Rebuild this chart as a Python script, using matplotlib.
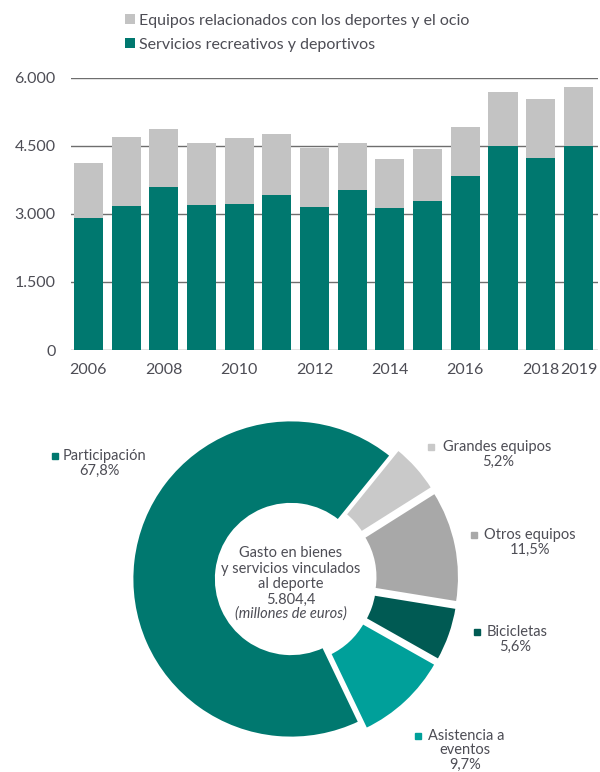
import numpy as np
import matplotlib.pyplot as plt
from matplotlib.ticker import FuncFormatter

plt.rcParams['font.family'] = ['Lato', 'DejaVu Sans']

# gasto anual (millones de euros)
years = list(range(2006, 2020))
servicios = [2900, 3180, 3590, 3195, 3215, 3420, 3150, 3530, 3135, 3290, 3830, 4500, 4230, 4500]
equipos = [1215, 1520, 1270, 1360, 1465, 1345, 1305, 1040, 1075, 1140, 1090, 1185, 1290, 1304]
tick_years = [2006, 2008, 2010, 2012, 2014, 2016, 2018, 2019]

# reparto 2019
cats = ['Grandes equipos', 'Otros equipos', 'Bicicletas', 'Asistencia a\neventos', 'Participación']
shares = [5.2, 11.5, 5.6, 9.7, 67.8]
total = 5804.4

TEAL = '#00786f'
GREY = '#c3c3c3'
TXT = '#4d4d55'
donut_cols = ['#c9c9c9', '#a8a8a8', '#005a53', '#00a09a', TEAL]

W, H = 600, 772
fig = plt.figure(figsize=(W / 100, H / 100), dpi=100)

# --- barras apiladas ---
ax = fig.add_axes([71 / W, 1 - 350 / H, (598 - 71) / W, (350 - 77.7) / H])
x = np.arange(len(years))
b1 = ax.bar(x, servicios, width=0.77, color=TEAL, zorder=3)
b2 = ax.bar(x, equipos, bottom=servicios, width=0.77, color=GREY, zorder=3)
ax.set_ylim(0, 6000)
ax.set_xlim(-0.46, 13.52)
ax.set_yticks([0, 1500, 3000, 4500, 6000])
ax.yaxis.set_major_formatter(FuncFormatter(lambda v, p: f'{int(v):,}'.replace(',', '.')))
ax.set_xticks([years.index(y) for y in tick_years])
ax.set_xticklabels([str(y) for y in tick_years])
ax.grid(axis='y', color='#6e6e6e', linewidth=1, zorder=0)
ax.set_axisbelow(True)
for s in ax.spines.values():
    s.set_visible(False)
ax.tick_params(length=0, labelsize=11.5, colors=TXT)
ax.tick_params(axis='y', pad=11)
ax.tick_params(axis='x', pad=9)

fig.legend([b2, b1], ['Equipos relacionados con los deportes y el ocio',
                      'Servicios recreativos y deportivos'],
           loc='upper left', bbox_to_anchor=(125 / W, 1 - 14 / H), frameon=False,
           fontsize=11.5, labelcolor=TXT, handlelength=0.6, handleheight=0.6,
           handletextpad=0.3, labelspacing=0.6, borderpad=0, borderaxespad=0)

# --- anillo ---
cx, cy, R = 291, 579, 159
half = 260
pax = fig.add_axes([(cx - half) / W, (H - cy - half) / H, 2 * half / W, 2 * half / H])
pax.pie(shares, colors=donut_cols, startangle=51, counterclock=False,
        explode=[0.06, 0.06, 0.06, 0.06, 0],
        wedgeprops=dict(width=0.53, edgecolor='white', linewidth=2))
lim = half / R
pax.set_xlim(-lim, lim)
pax.set_ylim(-lim, lim)
pax.axis('off')


def to_data(px, py):
    return (px - cx) / R, (cy - py) / R


total_txt = f'{total:,.1f}'.replace(',', 'X').replace('.', ',').replace('X', '.')
center_lines = ['Gasto en bienes', 'y servicios vinculados', 'al deporte', total_txt]
for i, line in enumerate(center_lines):
    _, ly = to_data(cx, 553 + 15.5 * i)
    pax.text(0, ly, line, ha='center', va='center', fontsize=10.5, color=TXT)
_, ly = to_data(cx, 614)
pax.text(0, ly, '(millones de euros)', ha='center', va='center',
         fontsize=10.5, color=TXT, style='italic')

# etiquetas: (cuadro x, cuadro y, texto x, centro x de las líneas siguientes)
label_pos = [(431, 447, 443, 498), (474, 535, 484, 530), (477, 632, 487, 515),
             (418, 736, 428, 465), (55, 456, 63, 99)]
for name, val, col, (sx, sy, tx, mx) in zip(cats, shares, donut_cols, label_pos):
    lines = name.split('\n')
    dx, dy = to_data(sx, sy)
    pax.plot(dx, dy, 's', color=col, markersize=5, clip_on=False)
    tdx, _ = to_data(tx, sy)
    pax.text(tdx, dy, lines[0], ha='left', va='center', fontsize=10.5, color=TXT, clip_on=False)
    rest = lines[1:] + [f'{val:.1f}%'.replace('.', ',')]
    for i, line in enumerate(rest):
        mdx, mdy = to_data(mx, sy + 14.5 * (i + 1))
        pax.text(mdx, mdy, line, ha='center', va='center', fontsize=10.5, color=TXT, clip_on=False)

fig.savefig('out.png', dpi=100)
